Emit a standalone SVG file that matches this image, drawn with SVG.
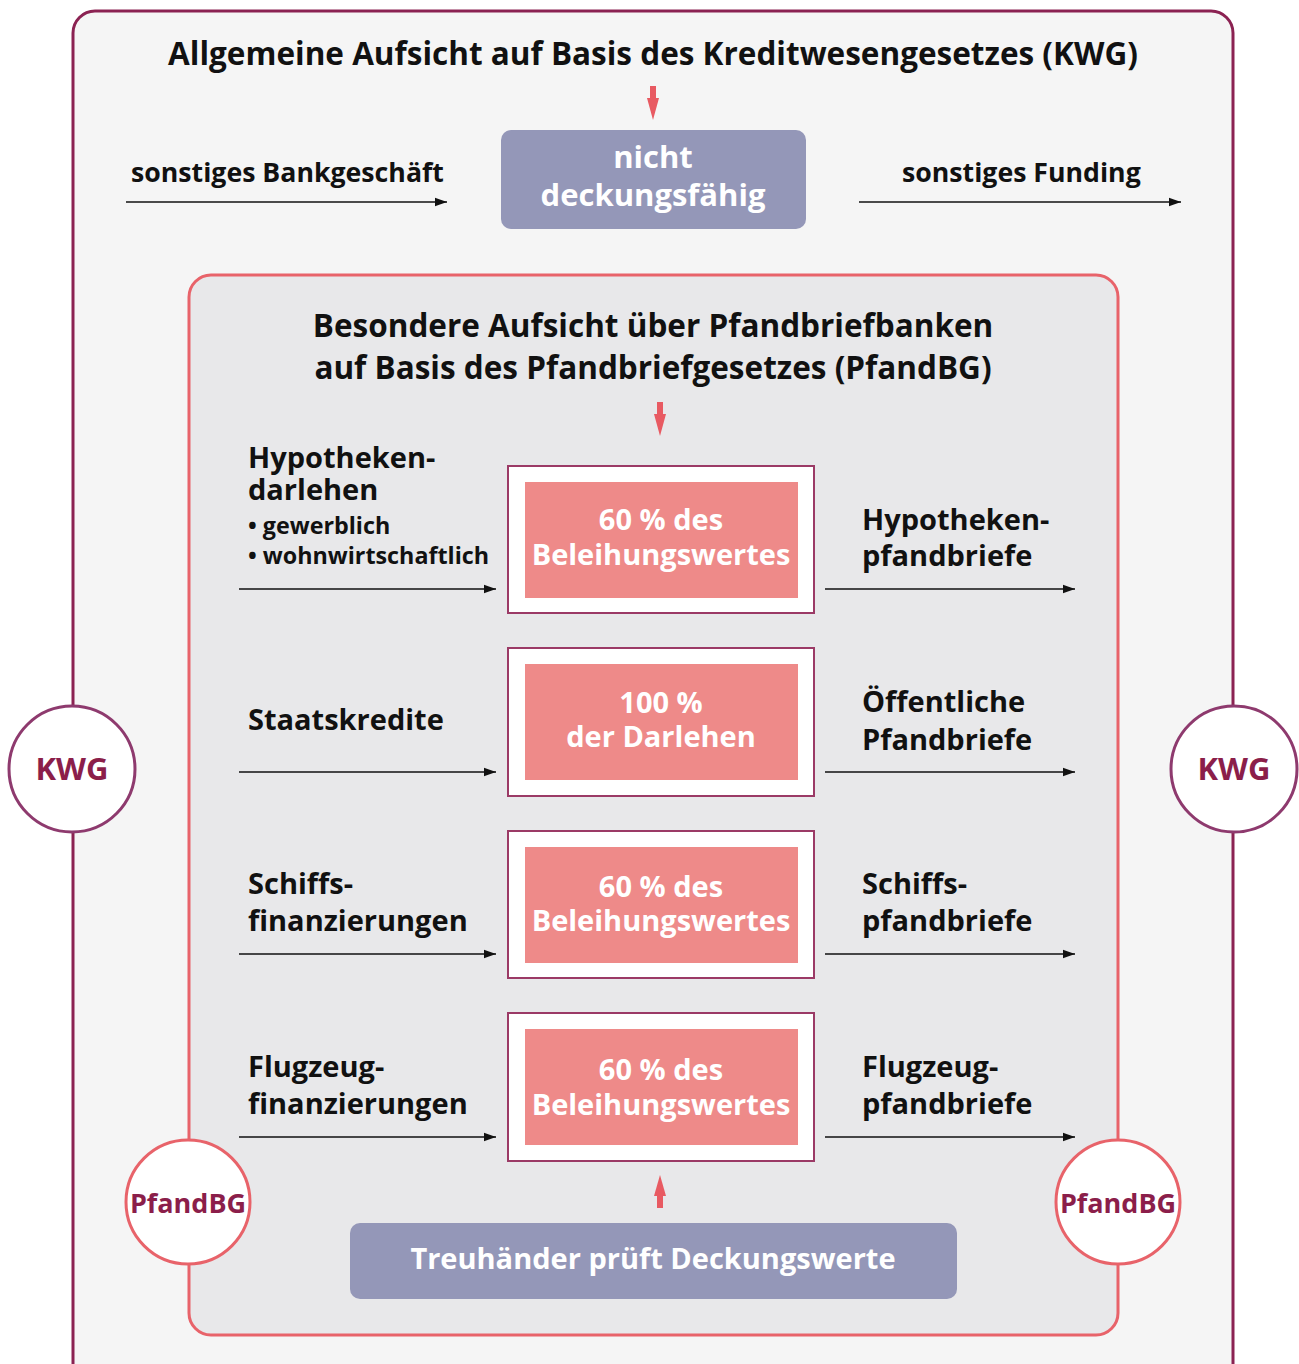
<svg xmlns="http://www.w3.org/2000/svg" width="1299" height="1364" viewBox="0 0 1299 1364">
<defs>
<style>
text{font-family:"Open Sans","Liberation Sans",sans-serif;font-weight:700}
.t{fill:#111;font-size:31.5px}
.lbl{fill:#111;font-size:29px}
.sm{fill:#111;font-size:23.3px}
.w{fill:#fff;font-size:29px;text-anchor:middle}
.c{text-anchor:middle}
.conn{stroke:#111;stroke-width:1.6;fill:none}
.red{stroke:#e85a62;stroke-width:6;fill:none}
.circK{fill:#fff;stroke:#8e3a6e;stroke-width:3}
.circP{fill:#fff;stroke:#e8636a;stroke-width:3}
.ct{fill:#8b1e4a;text-anchor:middle}
.ob{fill:#fff;stroke:#9b3a66;stroke-width:2}
.pk{fill:#ee8a89}
</style>
<marker id="ah" viewBox="0 0 10 10" refX="10" refY="5" markerWidth="12" markerHeight="12" markerUnits="userSpaceOnUse" orient="auto"><path d="M0,1.5 L10,5 L0,8.5 Z" fill="#111"/></marker>
</defs>
<rect width="1299" height="1364" fill="#fff"/>
<g id="outer">
<rect x="73" y="11" width="1160" height="1380" rx="22" fill="#f5f5f5" stroke="#8b2252" stroke-width="3"/>
<text class="t c" x="653" y="65">Allgemeine Aufsicht auf Basis des Kreditwesengesetzes (KWG)</text>
</g>
<g id="inner">
<rect x="189" y="275" width="929" height="1060" rx="22" fill="#e8e8ea" stroke="#e8636a" stroke-width="3"/>
<text class="t c" x="653" y="337">Besondere Aufsicht über Pfandbriefbanken</text>
<text class="t c" x="653" y="379">auf Basis des Pfandbriefgesetzes (PfandBG)</text>
</g>
<g id="nicht">
<rect x="501" y="130" width="305" height="99" rx="10" fill="#9497b8"/>
<text class="w" x="653" y="168" style="font-size:31px">nicht</text>
<text class="w" x="653" y="206" style="font-size:31px">deckungsfähig</text>
</g>
<g id="labels-top">
<text class="lbl" x="131" y="182" style="font-size:26.7px">sonstiges Bankgeschäft</text>
<text class="lbl" x="902" y="182" style="font-size:26.7px">sonstiges Funding</text>
</g>
<g id="row1">
<text class="lbl" x="248" y="468">Hypotheken-</text>
<text class="lbl" x="248" y="500">darlehen</text>
<text class="sm" x="248" y="534">• gewerblich</text>
<text class="sm" x="248" y="564">• wohnwirtschaftlich</text>
<rect class="ob" x="508" y="466" width="306" height="147"/>
<rect class="pk" x="525" y="482" width="273" height="116"/>
<text class="w" x="661" y="530">60 % des</text>
<text class="w" x="661" y="565">Beleihungswertes</text>
<text class="lbl" x="862" y="530">Hypotheken-</text>
<text class="lbl" x="862" y="566">pfandbriefe</text>
</g>
<g id="row2">
<text class="lbl" x="248" y="730">Staatskredite</text>
<rect class="ob" x="508" y="648" width="306" height="148"/>
<rect class="pk" x="525" y="664" width="273" height="116"/>
<text class="w" x="661" y="713">100 %</text>
<text class="w" x="661" y="747">der Darlehen</text>
<text class="lbl" x="862" y="712">Öffentliche</text>
<text class="lbl" x="862" y="750">Pfandbriefe</text>
</g>
<g id="row3">
<text class="lbl" x="248" y="894">Schiffs-</text>
<text class="lbl" x="248" y="931">finanzierungen</text>
<rect class="ob" x="508" y="831" width="306" height="147"/>
<rect class="pk" x="525" y="847" width="273" height="116"/>
<text class="w" x="661" y="897">60 % des</text>
<text class="w" x="661" y="931">Beleihungswertes</text>
<text class="lbl" x="862" y="894">Schiffs-</text>
<text class="lbl" x="862" y="931">pfandbriefe</text>
</g>
<g id="row4">
<text class="lbl" x="248" y="1077">Flugzeug-</text>
<text class="lbl" x="248" y="1114">finanzierungen</text>
<rect class="ob" x="508" y="1013" width="306" height="148"/>
<rect class="pk" x="525" y="1029" width="273" height="116"/>
<text class="w" x="661" y="1080">60 % des</text>
<text class="w" x="661" y="1115">Beleihungswertes</text>
<text class="lbl" x="862" y="1077">Flugzeug-</text>
<text class="lbl" x="862" y="1114">pfandbriefe</text>
</g>
<g id="treuhaender">
<rect x="350" y="1223" width="607" height="76" rx="10" fill="#9497b8"/>
<text class="w" x="653" y="1269">Treuhänder prüft Deckungswerte</text>
</g>
<g id="connectors">
<line class="conn" x1="126" y1="202" x2="447" y2="202" marker-end="url(#ah)"/>
<line class="conn" x1="859" y1="202" x2="1181" y2="202" marker-end="url(#ah)"/>
<line class="conn" x1="239" y1="589" x2="496" y2="589" marker-end="url(#ah)"/>
<line class="conn" x1="825" y1="589" x2="1075" y2="589" marker-end="url(#ah)"/>
<line class="conn" x1="239" y1="772" x2="496" y2="772" marker-end="url(#ah)"/>
<line class="conn" x1="825" y1="772" x2="1075" y2="772" marker-end="url(#ah)"/>
<line class="conn" x1="239" y1="954" x2="496" y2="954" marker-end="url(#ah)"/>
<line class="conn" x1="825" y1="954" x2="1075" y2="954" marker-end="url(#ah)"/>
<line class="conn" x1="239" y1="1137" x2="496" y2="1137" marker-end="url(#ah)"/>
<line class="conn" x1="825" y1="1137" x2="1075" y2="1137" marker-end="url(#ah)"/>
<line class="red" x1="653" y1="86" x2="653" y2="100"/>
<path d="M647,98 L659,98 L653,120 Z" fill="#e85a62"/>
<line class="red" x1="660" y1="402" x2="660" y2="416"/>
<path d="M654,414 L666,414 L660,436 Z" fill="#e85a62"/>
<line class="red" x1="660" y1="1208" x2="660" y2="1194"/>
<path d="M654,1196 L666,1196 L660,1175 Z" fill="#e85a62"/>
</g>
<g id="kwg-left">
<circle class="circK" cx="72" cy="769" r="63"/>
<text class="ct" x="72" y="780" style="font-size:31px">KWG</text>
</g>
<g id="kwg-right">
<circle class="circK" cx="1234" cy="769" r="63"/>
<text class="ct" x="1234" y="780" style="font-size:31px">KWG</text>
</g>
<g id="pfandbg-left">
<circle class="circP" cx="188" cy="1202" r="62"/>
<text class="ct" x="188" y="1213" style="font-size:27px">PfandBG</text>
</g>
<g id="pfandbg-right">
<circle class="circP" cx="1118" cy="1202" r="62"/>
<text class="ct" x="1118" y="1213" style="font-size:27px">PfandBG</text>
</g>
</svg>
